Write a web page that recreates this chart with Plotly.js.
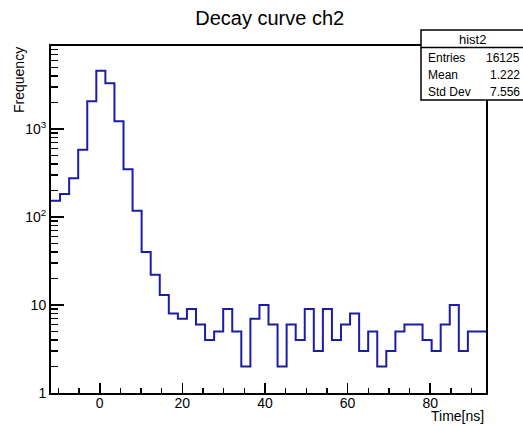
<!DOCTYPE html>
<html>
<head>
<meta charset="utf-8">
<script src="https://cdn.plot.ly/plotly-3.0.1.min.js"></script>
<style>html,body{margin:0;padding:0;background:#fff;}#chart{width:523px;height:425px;}</style>
</head>
<body>
<div id="chart"></div>
<script>
// Histogram definition
const histName = "hist2";
const chartTitle = "Decay curve ch2";
const xMin = -11.8;
const xMax = 93.5;
const binCounts = [153, 183, 275, 582, 2065, 4600, 3310, 1224, 348, 118, 40, 22,
  13, 8, 7, 9, 6, 4, 5, 9, 5, 2, 7, 10, 6, 2, 6, 4, 9, 3, 9, 4, 6, 8, 3, 5,
  2, 3, 5, 6, 6, 4, 3, 6, 10, 3, 5, 5];
const statLabels = ["Entries", "Mean", "Std Dev"];
const statValues = ["16125", "1.222", "7.556"];
const xTickVals = [0, 20, 40, 60, 80];
const yTickVals = [1, 10, 100, 1000];
const yTickText = ["1", "10", "10<sup>2</sup>", "10<sup>3</sup>"];

// Build step outline from bin edges
const nBins = binCounts.length;
const binW = (xMax - xMin) / nBins;
const xs = [], ys = [];
for (let i = 0; i < nBins; i++) { xs.push(xMin + i * binW); ys.push(binCounts[i]); }
xs.push(xMax); ys.push(binCounts[nBins - 1]);

// pixel geometry helpers
const L = 51, R = 486, T = 46, B = 393;
const px = v => (v - L) / (R - L);
const py = v => (B - v) / (B - T);

const font = "Liberation Sans, Arial, sans-serif";

const trace = {
  type: "scatter", mode: "lines", x: xs, y: ys,
  line: {shape: "hv", color: "#1c1ca6", width: 2},
  hoverinfo: "skip"
};

const shapes = [
  {type: "rect", xref: "paper", yref: "paper", x0: px(421), x1: px(530), y0: py(30), y1: py(100),
   fillcolor: "#ffffff", line: {color: "#000", width: 1.5}, layer: "above"},
  {type: "line", xref: "paper", yref: "paper", x0: px(421), x1: px(530), y0: py(47.5), y1: py(47.5),
   line: {color: "#000", width: 1.5}, layer: "above"}
];

const annotations = [
  {text: histName, xref: "paper", yref: "paper", x: px(472), y: py(39), xanchor: "center", yanchor: "middle",
   showarrow: false, font: {family: font, size: 13, color: "#000"}},
  {text: "Time[ns]", xref: "paper", yref: "paper", x: 1, y: py(416), xanchor: "right", yanchor: "middle",
   showarrow: false, font: {family: font, size: 14, color: "#000"}},
  {text: "Frequency", xref: "paper", yref: "paper", x: px(19), y: py(45), xanchor: "center", yanchor: "top",
   textangle: -90, showarrow: false, font: {family: font, size: 14, color: "#000"}}
];
const rowY = [57.5, 75, 92.3];
statLabels.forEach((lab, i) => {
  annotations.push({text: lab, xref: "paper", yref: "paper", x: px(426), y: py(rowY[i]), xanchor: "left", yanchor: "middle",
    showarrow: false, font: {family: font, size: 12, color: "#000"}});
  annotations.push({text: statValues[i], xref: "paper", yref: "paper", x: px(522), y: py(rowY[i]), xanchor: "right", yanchor: "middle",
    showarrow: false, font: {family: font, size: 12, color: "#000"}});
});

const layout = {
  width: 523, height: 425,
  margin: {l: L, r: 523 - R, t: T, b: 425 - B, pad: 0},
  paper_bgcolor: "#fff", plot_bgcolor: "#fff",
  showlegend: false,
  title: {text: chartTitle, xref: "container", yref: "container", x: 269.7 / 523, y: 1 - 18 / 425,
          xanchor: "center", yanchor: "middle", font: {family: font, size: 20, color: "#000"}},
  xaxis: {
    range: [xMin, xMax], tickvals: xTickVals, ticks: "inside", ticklen: 10, tickwidth: 1.5, tickcolor: "#000",
    ticklabelstandoff: -4,
    minor: {ticks: "inside", dtick: 5, tick0: 0, ticklen: 5, tickwidth: 1.5, tickcolor: "#000", showgrid: false},
    showline: true, linewidth: 2, linecolor: "#000", mirror: true,
    showgrid: false, zeroline: false, tickfont: {family: font, size: 14, color: "#000"}
  },
  yaxis: {
    type: "log", range: [0, 3.943], tickvals: yTickVals, ticktext: yTickText,
    ticks: "inside", ticklen: 13, tickwidth: 1.5, tickcolor: "#000",
    minor: {ticks: "inside", dtick: "D1", ticklen: 7, tickwidth: 1.5, tickcolor: "#000", showgrid: false},
    showline: true, linewidth: 2, linecolor: "#000", mirror: true,
    showgrid: false, zeroline: false, tickfont: {family: font, size: 14, color: "#000"}
  },
  shapes: shapes,
  annotations: annotations
};

Plotly.newPlot("chart", [trace], layout, {staticPlot: true, displayModeBar: false});
</script>
</body>
</html>
